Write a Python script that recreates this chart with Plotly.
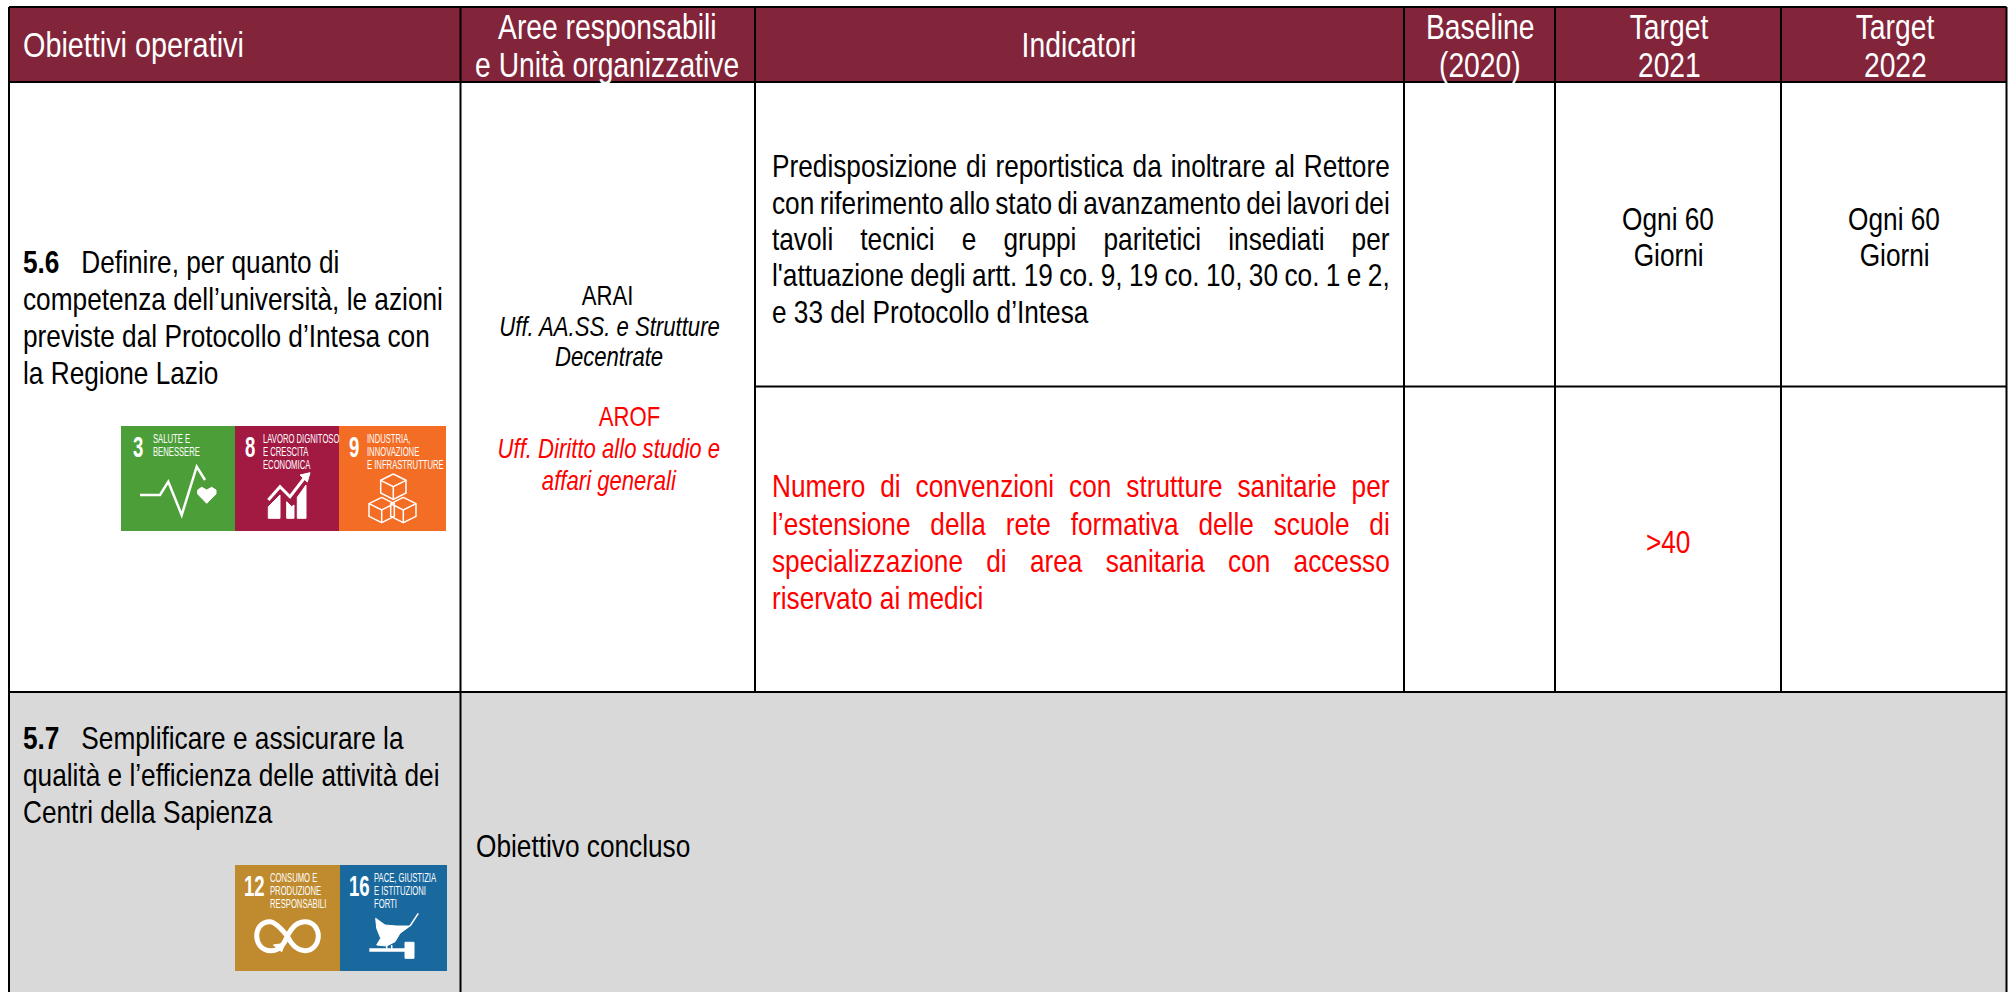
import json
import plotly.graph_objects as go

W, H = 2009, 992
FONT = "Liberation Sans, Arial"
MAROON = "#82243A"
GREY = "#D9D9D9"
RED = "#FF0000"
BLACK = "#000000"
X_SQUEEZE = 0.82

# table grid
column_edges = [9, 460.5, 755, 1404, 1555, 1781, 2006.5]
row_edges = [7, 82, 692, 992]
split_row = 386.5

header_labels = [
    (["Obiettivi operativi"], 22, "left", 0.835),
    (["Aree responsabili", "e Unità organizzative"], 607, "center", 0.82),
    (["Indicatori"], 1079, "center", 0.82),
    (["Baseline", "(2020)"], 1480, "center", 0.82),
    (["Target", "2021"], 1669, "center", 0.82),
    (["Target", "2022"], 1895, "center", 0.82),
]
goal_56_lines = [
    "<b>5.6</b>\u00a0\u00a0 Definire, per quanto di",
    "competenza dell’università, le azioni",
    "previste dal Protocollo d’Intesa con",
    "la Regione Lazio",
]
goal_56_y = [262, 299, 336, 373]
goal_57_lines = [
    "<b>5.7</b>\u00a0\u00a0 Semplificare e assicurare la",
    "qualità e l’efficienza delle attività dei",
    "Centri della Sapienza",
]
goal_57_y = [738, 775, 812]
units_black = ["ARAI", "<i>Uff. AA.SS. e Strutture</i>", "<i>Decentrate</i>"]
units_black_y = [296, 327, 357]
units_black_x = [607, 609, 609]
units_red = ["AROF", "<i>Uff. Diritto allo studio e</i>", "<i>affari generali</i>"]
units_red_y = [417, 449, 481]
units_red_x = [629, 609, 609]

indicator_left = 771
indicator_width = 618
indicator_black = [
    (166, "Predisposizione di reportistica da inoltrare al Rettore", True),
    (203, "con riferimento allo stato di avanzamento dei lavori dei", True),
    (239, "tavoli tecnici e gruppi paritetici insediati per", True),
    (275, "l'attuazione degli artt. 19 co. 9, 19 co. 10, 30 co. 1 e 2,", True),
    (312, "e 33 del Protocollo d’Intesa", False),
]
indicator_red = [
    (486, "Numero di convenzioni con strutture sanitarie per", True),
    (524, "l’estensione della rete formativa delle scuole di", True),
    (561, "specializzazione di area sanitaria con accesso", True),
    (598, "riservato ai medici", False),
]
target_cells = [
    ("Ogni 60", 1668, 218.5, BLACK), ("Giorni", 1668, 254.5, BLACK),
    ("Ogni 60", 1894, 218.5, BLACK), ("Giorni", 1894, 254.5, BLACK),
    (">40", 1668, 542, RED),
]
concluded_label = "Obiettivo concluso"

# SDG tiles: left, right, top, bottom, colour, number, number x, label x, label lines
sdg_tiles = [
    (121, 235, 426, 531, "#4C9F38", "3", 132, 152, ["SALUTE E", "BENESSERE"]),
    (235, 339, 426, 531, "#A21942", "8", 244, 262, ["LAVORO DIGNITOSO", "E CRESCITA", "ECONOMICA"]),
    (339, 446, 426, 531, "#F36D25", "9", 348, 366, ["INDUSTRIA,", "INNOVAZIONE", "E INFRASTRUTTURE"]),
    (235, 340, 865, 971, "#BF8B2E", "12", 243, 269, ["CONSUMO E", "PRODUZIONE", "RESPONSABILI"]),
    (340, 447, 865, 971, "#19699F", "16", 348, 373, ["PACE, GIUSTIZIA", "E ISTITUZIONI", "FORTI"]),
]

shapes = []
ann = []
squeeze = []
justify = []


def rect(x0, x1, y0, y1, fill):
    shapes.append(dict(type="rect", x0=x0, x1=x1, y0=y0, y1=y1, fillcolor=fill,
                       line=dict(width=0), layer="below"))


def line(x0, y0, x1, y1, width=2, color=BLACK):
    shapes.append(dict(type="line", x0=x0, x1=x1, y0=y0, y1=y1,
                       line=dict(color=color, width=width)))


def text(t, x, y, size=32, color=BLACK, anchor="left", sx=X_SQUEEZE, fit=None):
    ann.append(dict(text=t, x=x, y=y, xref="x", yref="y", showarrow=False, xanchor=anchor,
                    yanchor="middle", align=anchor, borderpad=0,
                    font=dict(family=FONT, size=size, color=color)))
    squeeze.append(sx)
    justify.append(fit)


def glyph(d, origin, color="white", width=2, fill=None):
    """d: list of points measured at 3x from origin."""
    ox, oy = origin
    pts = [(ox + a / 3, oy + b / 3) for a, b in d]
    s = "M" + " L".join(f"{a:.1f},{b:.1f}" for a, b in pts)
    if fill:
        s += " Z"
    shapes.append(dict(type="path", path=s, line=dict(color=color, width=width),
                       fillcolor=fill if fill else "rgba(0,0,0,0)"))


def curve(segments, origin, color="white", width=5):
    """segments: start point then triples of cubic bezier control points."""
    ox, oy = origin
    p = [(ox + a / 3, oy + b / 3) for a, b in segments]
    s = f"M{p[0][0]:.1f},{p[0][1]:.1f}"
    for i in range(1, len(p), 3):
        s += " C" + " ".join(f"{a:.1f},{b:.1f}" for a, b in p[i:i + 3])
    shapes.append(dict(type="path", path=s, line=dict(color=color, width=width),
                       fillcolor="rgba(0,0,0,0)"))


# backgrounds
rect(column_edges[0], column_edges[-1], row_edges[0], row_edges[1], MAROON)
rect(column_edges[0], column_edges[-1], row_edges[2], row_edges[3], GREY)

# grid
for y in row_edges[:3]:
    line(column_edges[0], y, column_edges[-1], y)
line(column_edges[2], split_row, column_edges[-1], split_row)
for i, x in enumerate(column_edges):
    bottom = row_edges[3] if i in (0, 1, len(column_edges) - 1) else row_edges[2]
    line(x, row_edges[0], x, bottom)

# header
for lines, x, anchor, sx in header_labels:
    ys = [44.5] if len(lines) == 1 else [27, 65]
    for t, y in zip(lines, ys):
        text(t, x, y, 34.5, "white", anchor, sx=sx)

for t, y in zip(goal_56_lines, goal_56_y):
    text(t, 22, y)
for t, y in zip(goal_57_lines, goal_57_y):
    text(t, 22, y)
for t, x, y in zip(units_black, units_black_x, units_black_y):
    text(t, x, y, 27, BLACK, "center")
for t, x, y in zip(units_red, units_red_x, units_red_y):
    text(t, x, y, 27, RED, "center")
for rows, col in ((indicator_black, BLACK), (indicator_red, RED)):
    for y, t, just in rows:
        text(t, indicator_left, y, 32, col, fit=indicator_width if just else None)
for t, x, y, col in target_cells:
    text(t, x, y, 32, col, "center")
text(concluded_label, 475, 846, 32)

# SDG tiles
for tile in sdg_tiles:
    x0, x1, y0, y1, col, num, nx, lx, labels = tile
    rect(x0, x1, y0, y1, col)
    text(f"<b>{num}</b>", nx, y0 + 20, 30, "white", sx=0.62)
    for i, t in enumerate(labels):
        text(t, lx, y0 + 13 + i * 13, 12, "white", sx=0.64)

# pictograms, traced at 3x from each crop's origin
O1 = (100, 410)
O2 = (210, 850)
glyph([(120, 255), (180, 255), (205, 215), (245, 315), (290, 170), (315, 210)], O1, width=2.5)
glyph([(320, 280), (293, 252), (293, 240), (305, 232), (320, 240), (335, 232), (348, 240),
       (348, 252)], O1, width=1, fill="white")
glyph([(505, 270), (540, 230), (570, 260), (620, 195)], O1, width=3)
glyph([(600, 195), (630, 188), (622, 216)], O1, width=1, fill="white")
glyph([(505, 325), (505, 290), (540, 255), (540, 325)], O1, width=1, fill="white")
glyph([(560, 325), (560, 275), (575, 290), (582, 285), (582, 325)], O1, width=1, fill="white")
glyph([(592, 325), (592, 262), (618, 225), (618, 325)], O1, width=1, fill="white")
for cx, t in ((880, 192), (845, 262), (910, 262)):
    h = 38
    glyph([(cx, t), (cx + h, t + h / 2), (cx + h, t + 1.5 * h), (cx, t + 2 * h), (cx - h, t + 1.5 * h),
           (cx - h, t + h / 2), (cx, t)], O1, width=1.5)
    glyph([(cx - h, t + h / 2), (cx, t + h), (cx + h, t + h / 2)], O1, width=1.5)
    glyph([(cx, t + h), (cx, t + 2 * h)], O1, width=1.5)

curve([(232, 258), (205, 225), (190, 215), (180, 215), (150, 215), (140, 240), (140, 258),
       (140, 280), (155, 302), (182, 302), (205, 302), (220, 290), (232, 258),
       (250, 225), (265, 215), (285, 215), (312, 215), (325, 238), (325, 258),
       (325, 282), (308, 302), (285, 302), (262, 302), (245, 285), (232, 258)], O2, width=5)
glyph([(190, 285), (225, 280), (215, 305)], O2, width=1, fill="white")

glyph([(497, 205), (525, 225), (560, 228), (600, 228), (570, 250), (555, 275), (530, 288), (500, 285),
       (512, 265), (500, 235)], O2, width=1, fill="white")
glyph([(600, 228), (625, 190)], O2, width=1.5)
glyph([(478, 300), (585, 300)], O2, width=3.5)
glyph([(585, 277), (612, 277), (612, 325), (585, 325)], O2, width=1, fill="white")
glyph([(530, 285), (530, 298)], O2, width=1.5)
glyph([(545, 285), (545, 298)], O2, width=1.5)

fig = go.Figure()
fig.update_layout(
    width=W, height=H, margin=dict(l=0, r=0, t=0, b=0), showlegend=False,
    paper_bgcolor="white", plot_bgcolor="white", shapes=shapes, annotations=ann,
    xaxis=dict(range=[0, W], visible=False, fixedrange=True),
    yaxis=dict(range=[H, 0], visible=False, fixedrange=True),
)
# The reference's type is horizontally condensed and its cells are justified:
# narrow each text about its anchor and stretch word gaps to the cell width.
post = """
document.body.style.margin='0';document.body.style.overflow='hidden';
var gd=document.getElementById('{plot_id}');var S=%s;var J=%s;
gd.querySelectorAll('.annotation').forEach(function(g){
  var i=+g.getAttribute('data-index');var a=gd.layout.annotations[i];
  var t=g.querySelector('text');var b=t.getBBox();
  var p=a.xanchor==='left'?b.x:(a.xanchor==='center'?b.x+b.width/2:b.x+b.width);
  if(J[i]){var n=a.text.split(' ').length-1;
    t.style.wordSpacing=((J[i]/S[i]-b.width)/n)+'px';}
  t.setAttribute('transform','translate('+p+',0) scale('+S[i]+',1) translate('+(-p)+',0)');
});
""" % (json.dumps(squeeze), json.dumps(justify))
fig.write_html("out.html", config={"displayModeBar": False}, post_script=post)
